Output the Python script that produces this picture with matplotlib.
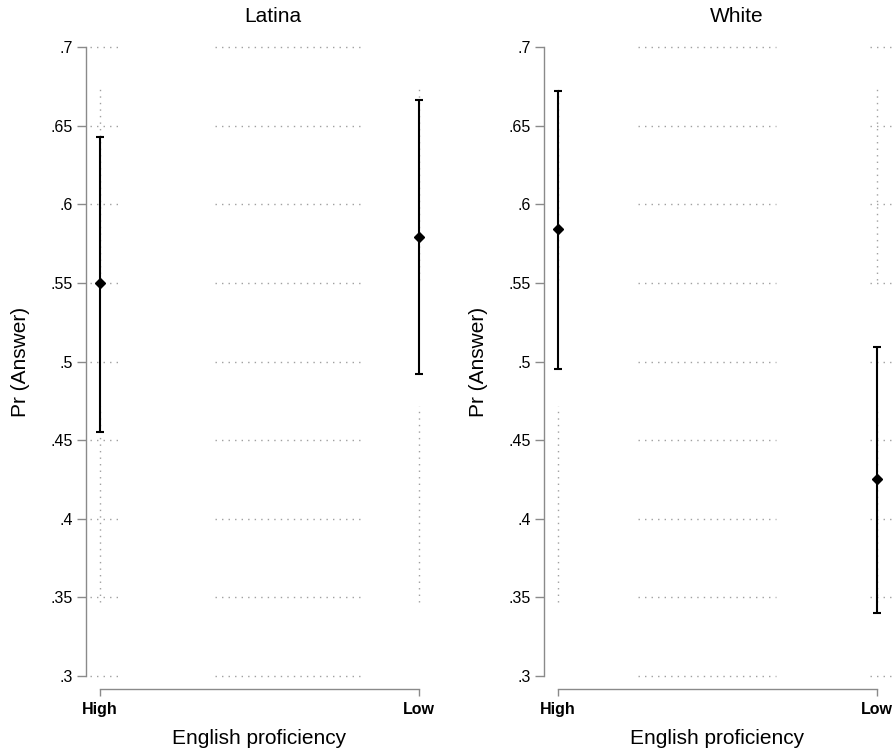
import matplotlib.pyplot as plt
import numpy as np

plt.rcParams['font.family'] = ['Liberation Sans', 'DejaVu Sans']

# data
groups = ['Latina', 'White']
levels = ['High', 'Low']
est = {'Latina': [0.550, 0.579], 'White': [0.584, 0.425]}
ci_lo = {'Latina': [0.455, 0.492], 'White': [0.495, 0.340]}
ci_hi = {'Latina': [0.643, 0.666], 'White': [0.672, 0.509]}
yticks = [0.3, 0.35, 0.4, 0.45, 0.5, 0.55, 0.6, 0.65, 0.7]

# pieces of dotted gridline that survive in the picture (x in data units)
grid_segs = {'Latina': [(-0.031, 0.066), (0.36, 0.815)],
             'White': [(0.25, 0.684), (0.977, 1.044)]}
vline_segs = [(0.347, 0.472), (0.552, 0.673)]
title_x = {'Latina': 0.539, 'White': 0.556}

W, H = 895, 755
fig = plt.figure(figsize=(W / 100, H / 100), dpi=100)
ax_w = 347 / W
ax_h = 629 / H
bottom = 1 - 676 / H
lefts = [86 / W, 544 / W]

grey = '#8a8a8a'
dot_style = dict(color='#a0a0a0', lw=1.0, linestyle=(0, (1, 3.7)), zorder=1,
                 clip_on=False)

for g, left in zip(groups, lefts):
    ax = fig.add_axes([left, bottom, ax_w, ax_h])
    ax.set_xlim(-0.044, 1.044)
    ax.set_ylim(0.3, 0.7)
    x = np.arange(len(levels))

    for x0, x1 in grid_segs[g]:
        ax.hlines(yticks, x0, x1, **dot_style)
    for y0, y1 in vline_segs:
        ax.vlines(x, y0, y1, **dot_style)

    e = np.array(est[g])
    lo = np.array(ci_lo[g])
    hi = np.array(ci_hi[g])
    ax.errorbar(x, e, yerr=[e - lo, hi - e], fmt='D', color='black',
                ms=5.5, elinewidth=1.5, capsize=2.6, capthick=1.5,
                zorder=3, clip_on=False)

    for s in ['top', 'right']:
        ax.spines[s].set_visible(False)
    ax.spines['left'].set_bounds(0.3, 0.7)
    ax.spines['bottom'].set_bounds(0, 1)
    ax.spines['bottom'].set_position(('outward', 9.4))
    for s in ['left', 'bottom']:
        ax.spines[s].set_color(grey)
        ax.spines[s].set_linewidth(1.0)

    ax.set_yticks(yticks, [f'{v:.2f}'.rstrip('0').lstrip('0') for v in yticks])
    ax.set_xticks(x, levels, fontweight='bold')
    ax.tick_params(axis='y', length=6.5, width=1, color=grey, pad=3,
                   labelsize=11.5)
    ax.tick_params(axis='x', length=5, width=1, color=grey, pad=4,
                   labelsize=11.5)

    ax.set_ylabel('Pr (Answer)', fontsize=15)
    ax.yaxis.label.set_va('center')
    ax.yaxis.set_label_coords(-0.19, 0.5)
    ax.set_xlabel('English proficiency', fontsize=15)
    ax.xaxis.label.set_va('center')
    ax.xaxis.set_label_coords(0.5, -62 / 629)
    ax.text(title_x[g], 1 + 30 / 629, g, transform=ax.transAxes,
            ha='center', va='center', fontsize=15)

fig.savefig('out.png', dpi=100)
